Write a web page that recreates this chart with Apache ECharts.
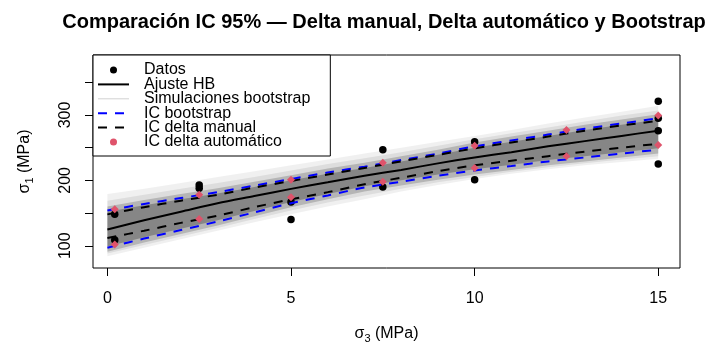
<!DOCTYPE html>
<html>
<head>
<meta charset="utf-8">
<script src="https://cdn.jsdelivr.net/npm/echarts@6/dist/echarts.min.js"></script>
<style>
  html, body { margin: 0; padding: 0; background: #fff; }
  #chart { width: 709px; height: 350px; }
</style>
</head>
<body>
<div id="chart"></div>
<script>
// Malla de sigma3 (MPa) sobre la que se trazan las curvas
const sigma3Grid = [0, 1, 2, 3, 4, 5, 6, 7, 8, 9, 10, 11, 12, 13, 14, 15];

// Ajuste Hoek-Brown (sigma1, MPa)
const ajusteHB = [125, 139, 152, 165, 176, 187, 197, 207, 216, 226, 235, 243, 252, 260, 268, 276];

// IC 95% bootstrap
const icBootSup = [154, 164, 173, 182, 192, 202, 212, 221, 231, 241, 252, 261, 270, 279, 287, 295];
const icBootInf = [97, 111, 124, 137, 151, 165, 177, 189, 198, 207, 215, 222, 229, 235, 241, 247];

// IC 95% método delta (manual)
const icDeltaSup = [148, 159, 169, 178, 189, 199, 209, 219, 229, 239, 249, 258, 267, 276, 284, 291];
const icDeltaInf = [112, 123, 135, 146, 159, 171, 182, 194, 204, 214, 223, 230, 237, 244, 250, 256];

// Envolventes de las simulaciones bootstrap (de la más abierta al núcleo)
const simExtSup = [179, 187, 196, 205, 214, 223, 232, 241, 250, 259, 268, 277, 287, 296, 305, 314];
const simExtInf = [84, 97, 110, 123, 136, 148, 160, 171, 183, 193, 202, 210, 217, 223, 228, 233];
const simAnchoSup = [169, 178, 187, 196, 205, 215, 225, 234, 243, 253, 263, 272, 281, 290, 299, 307];
const simAnchoInf = [88, 101, 114, 127, 141, 154, 166, 177, 187, 197, 205, 213, 220, 226, 232, 237];
const simMedSup = [160, 170, 179, 188, 198, 208, 218, 227, 237, 247, 258, 267, 276, 285, 293, 301];
const simMedInf = [91, 105, 118, 131, 145, 159, 171, 183, 192, 201, 209, 216, 223, 229, 235, 241];
const simNucSup = [152, 162, 171, 180, 190, 200, 210, 219, 229, 239, 250, 259, 268, 277, 285, 293];
const simNucInf = [99, 113, 126, 139, 153, 167, 179, 191, 200, 209, 217, 224, 231, 237, 243, 249];

// Datos de ensayo
const datosS3 = [0.2, 0.2, 2.5, 2.5, 5, 5, 7.5, 7.5, 10, 10, 15, 15, 15, 15];
const datosS1 = [148, 109, 193, 188, 167, 140, 247, 190, 259, 201, 321, 295, 276, 225];

// IC 95% método delta (automático), evaluado en puntos discretos
const deltaAutoS3 = [0.2, 2.5, 5, 7.5, 10, 12.5, 15];
const deltaAutoSup = [156, 178, 201, 227, 253, 277, 299];
const deltaAutoInf = [102, 141, 174, 198, 219, 237, 254];

// Ejes
const xTicks = [0, 5, 10, 15];
const yTicks = [100, 150, 200, 250, 300, 350];
const yLabels = [100, 200, 300];

const FONT = 'Liberation Sans, Arial, sans-serif';
const ROJO = '#DF536B';

function pares(xs, ys) {
  return xs.map((x, i) => [x, ys[i]]);
}

function banda(sup, inf, alpha) {
  return {
    type: 'custom',
    name: 'Simulaciones bootstrap',
    silent: true,
    z: 2,
    data: [[sigma3Grid[0], inf[0]]],
    renderItem: function (params, api) {
      const pts = [];
      for (let i = 0; i < sigma3Grid.length; i++) pts.push(api.coord([sigma3Grid[i], sup[i]]));
      for (let i = sigma3Grid.length - 1; i >= 0; i--) pts.push(api.coord([sigma3Grid[i], inf[i]]));
      return { type: 'polygon', shape: { points: pts }, style: { fill: 'rgba(0,0,0,' + alpha + ')' } };
    }
  };
}

function curva(name, ys, color, width, dashed, z) {
  return {
    type: 'line',
    name: name,
    data: pares(sigma3Grid, ys),
    symbol: 'none',
    smooth: 0.3,
    z: z,
    lineStyle: { color: color, width: width, type: dashed ? [9, 8] : 'solid' },
    itemStyle: { color: color }
  };
}

// Entradas de leyenda de tipo línea: sólo el trazo, sin símbolo
function entradaLinea(name) {
  return { name: name, itemStyle: { opacity: 0 } };
}

const chart = echarts.init(document.getElementById('chart'), null, { renderer: 'canvas' });

chart.setOption({
  animation: false,
  backgroundColor: '#fff',
  title: {
    text: 'Comparación IC 95% — Delta manual, Delta automático y Bootstrap',
    left: 379,
    textAlign: 'center',
    top: 7,
    textStyle: { fontFamily: FONT, fontSize: 20, fontWeight: 'bold', color: '#000' }
  },
  legend: {
    left: 93,
    top: 55,
    orient: 'vertical',
    padding: [7, 20, 6, 4],
    itemGap: -1.6,
    itemWidth: 31,
    itemHeight: 7,
    borderColor: '#000',
    borderWidth: 1,
    borderRadius: 0,
    backgroundColor: '#fff',
    selectedMode: false,
    z: 10,
    textStyle: { fontFamily: FONT, fontSize: 16, color: '#000', padding: [0, 0, 0, 10] },
    data: [
      { name: 'Datos', icon: 'circle' },
      entradaLinea('Ajuste HB'),
      { name: 'Simulaciones bootstrap', icon: 'path://M0,0H30V1H0Z', itemStyle: { color: '#d3d3d3' } },
      entradaLinea('IC bootstrap'),
      entradaLinea('IC delta manual'),
      { name: 'IC delta automático', icon: 'circle' }
    ]
  },
  grid: {
    left: 93,
    top: 55,
    width: 587,
    height: 213,
    show: true,
    borderColor: '#000',
    borderWidth: 1,
    backgroundColor: 'transparent'
  },
  xAxis: {
    type: 'value',
    min: -0.392,
    max: 15.592,
    axisLine: { show: false, onZero: false },
    splitLine: { show: false },
    axisTick: { show: true, length: 8, lineStyle: { color: '#000' }, customValues: xTicks },
    axisLabel: { customValues: xTicks, fontFamily: FONT, fontSize: 16, color: '#000', margin: 23 },
    name: '{s|σ}{sub|3}{s| (MPa)}',
    nameLocation: 'middle',
    nameGap: 56,
    nameTextStyle: {
      rich: {
        s: { fontFamily: FONT, fontSize: 16, color: '#000', lineHeight: 20 },
        sub: { fontFamily: FONT, fontSize: 11, color: '#000', lineHeight: 20, verticalAlign: 'bottom', padding: [8, 0, 0, 0] }
      }
    }
  },
  yAxis: {
    type: 'value',
    min: 66,
    max: 391.7,
    axisLine: { show: false, onZero: false },
    splitLine: { show: false },
    axisTick: { show: true, length: 8, lineStyle: { color: '#000' }, customValues: yTicks },
    axisLabel: { customValues: yLabels, rotate: 90, fontFamily: FONT, fontSize: 16, color: '#000', margin: 19 },
    name: '{s|σ}{sub|1}{s| (MPa)}',
    nameLocation: 'middle',
    nameGap: 58,
    nameTextStyle: {
      rich: {
        s: { fontFamily: FONT, fontSize: 16, color: '#000', lineHeight: 20 },
        sub: { fontFamily: FONT, fontSize: 11, color: '#000', lineHeight: 20, verticalAlign: 'bottom', padding: [8, 0, 0, 0] }
      }
    }
  },
  series: [
    {
      type: 'scatter',
      name: 'Datos',
      data: pares(datosS3, datosS1),
      symbol: 'circle',
      symbolSize: 7.5,
      z: 1,
      itemStyle: { color: '#000', opacity: 1 }
    },
    banda(simExtSup, simExtInf, 0.06),
    banda(simAnchoSup, simAnchoInf, 0.08),
    banda(simMedSup, simMedInf, 0.18),
    banda(simNucSup, simNucInf, 0.26),
    curva('Ajuste HB', ajusteHB, '#000', 2, false, 3),
    curva('IC bootstrap', icBootSup, '#0000ff', 2, true, 4),
    curva('IC bootstrap', icBootInf, '#0000ff', 2, true, 4),
    curva('IC delta manual', icDeltaSup, '#000', 2, true, 5),
    curva('IC delta manual', icDeltaInf, '#000', 2, true, 5),
    {
      type: 'scatter',
      name: 'IC delta automático',
      data: pares(deltaAutoS3, deltaAutoSup).concat(pares(deltaAutoS3, deltaAutoInf)),
      symbol: 'diamond',
      symbolSize: 8,
      z: 6,
      itemStyle: { color: ROJO, opacity: 1 }
    }
  ]
});
</script>
</body>
</html>
